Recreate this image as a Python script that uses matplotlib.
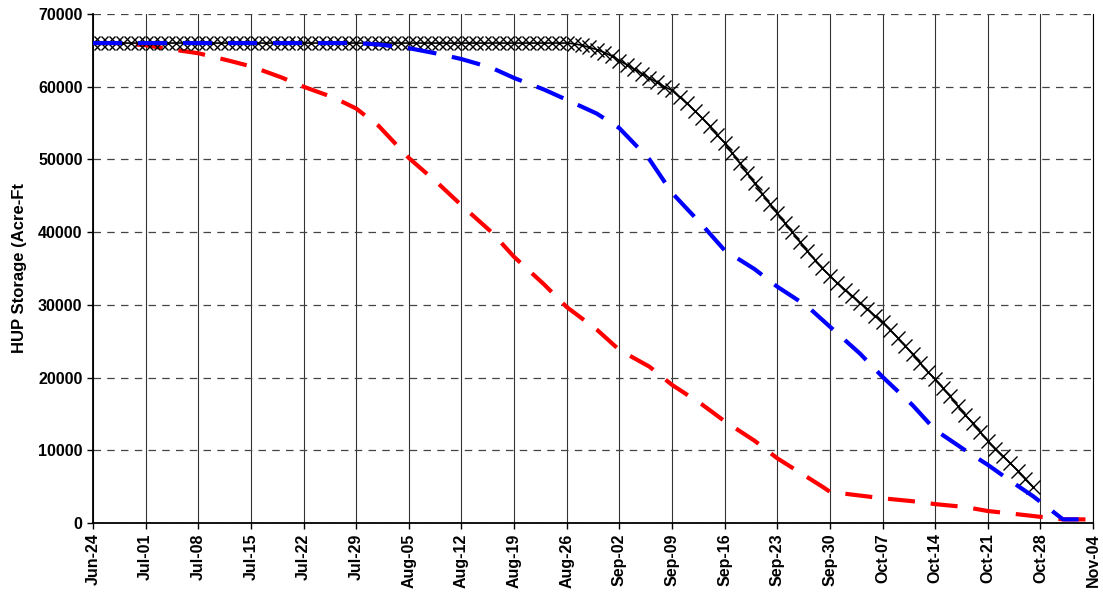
import numpy as np
import matplotlib
matplotlib.use('Agg')
import matplotlib.pyplot as plt

plt.rcParams['font.family'] = ['Liberation Sans', 'DejaVu Sans']

# x in days from Jun-24
tick_labels = ['Jun-24', 'Jul-01', 'Jul-08', 'Jul-15', 'Jul-22', 'Jul-29', 'Aug-05',
               'Aug-12', 'Aug-19', 'Aug-26', 'Sep-02', 'Sep-09', 'Sep-16', 'Sep-23',
               'Sep-30', 'Oct-07', 'Oct-14', 'Oct-21', 'Oct-28', 'Nov-04']

# black series: daily values, day 0 .. 125
black_vals = [66000] * 64 + [
    65900, 65700, 65400, 65100, 64700, 64200, 63600, 63000, 62400, 61800,
    61200, 60600, 60000, 59500, 58600, 57700, 56700, 55700, 54600, 53400,
    52300, 50900, 49500, 48100, 46700, 45300, 43900, 42600, 41300, 40000,
    38700, 37400, 36200, 35000, 34000, 33000, 32100, 31200, 30300, 29400,
    28500, 27600, 26600, 25500, 24400, 23200, 22000, 20800, 19800, 18600,
    17400, 16100, 14900, 13700, 12500, 11300, 10200, 9200, 8200, 7200,
    6100, 5000]
black_days = list(range(len(black_vals)))

blue_days = [0, 35, 38, 42, 46, 49, 53, 56, 60, 63, 67, 70, 74, 77, 81, 84, 88,
             91, 95, 98, 102, 105, 109, 112, 116, 119, 122, 125, 127, 129, 133]
blue_vals = [66000, 66000, 65800, 65300, 64500, 63800, 62600, 61200, 59600, 58200,
             56300, 54300, 50000, 45400, 41000, 37500, 34900, 32500, 29800, 27000,
             23300, 20100, 16200, 12800, 10000, 8000, 5800, 3700, 2100, 500, 500]

red_days = [0, 3, 7, 10, 14, 18, 21, 25, 28, 32, 35, 38, 42, 46, 49, 53, 56, 60,
            63, 67, 70, 74, 77, 81, 84, 88, 91, 95, 97, 98, 101, 105, 109, 112,
            116, 119, 123, 126, 129, 133]
red_vals = [66000, 66000, 65700, 65200, 64600, 63600, 62800, 61300, 60000, 58500,
            57000, 54600, 50200, 46600, 43700, 40000, 36600, 32800, 29700, 26600,
            23800, 21500, 19000, 16300, 14000, 11300, 8900, 6300, 5000, 4300,
            3900, 3400, 3000, 2600, 2200, 1650, 1200, 850, 500, 500]

fig = plt.figure(figsize=(11.03, 5.94), dpi=100)
ax = fig.add_axes([0.0843, 0.1195, 0.9067, 0.857])

ax.plot(red_days, red_vals, color='#ff0000', lw=3.0, dashes=(6.5, 3.8), zorder=3)
ax.plot(black_days, black_vals, color='black', lw=1.2, marker='x', ms=10, mew=1.0, zorder=4)
ax.plot(blue_days, blue_vals, color='#0000ff', lw=3.0, dashes=(7, 3.8), zorder=5)

ax.set_xlim(0, 133)
ax.set_ylim(0, 70000)
ax.set_xticks(np.arange(0, 134, 7))
ax.set_xticklabels(tick_labels, rotation=90, fontsize=11.5, fontweight='bold')
ax.set_yticks(np.arange(0, 70001, 10000))
ax.set_yticklabels([str(v) for v in range(0, 70001, 10000)], fontsize=11.5, fontweight='bold')
ax.tick_params(axis='both', direction='out', length=4, width=1, color='black')

ax.xaxis.grid(True, color='black', lw=0.8, ls='-', alpha=0.8)
ax.yaxis.grid(True, color='#444444', lw=0.9, ls=(0, (6, 5)))
ax.set_axisbelow(True)

ax.spines['top'].set_visible(False)
ax.spines['right'].set_color('black')
ax.spines['right'].set_linewidth(0.8)
ax.spines['left'].set_linewidth(1.3)
ax.spines['bottom'].set_linewidth(1.3)

ax.set_ylabel('HUP Storage (Acre-Ft', fontsize=12, fontweight='bold', labelpad=8)

fig.savefig('out.png', dpi=100)
